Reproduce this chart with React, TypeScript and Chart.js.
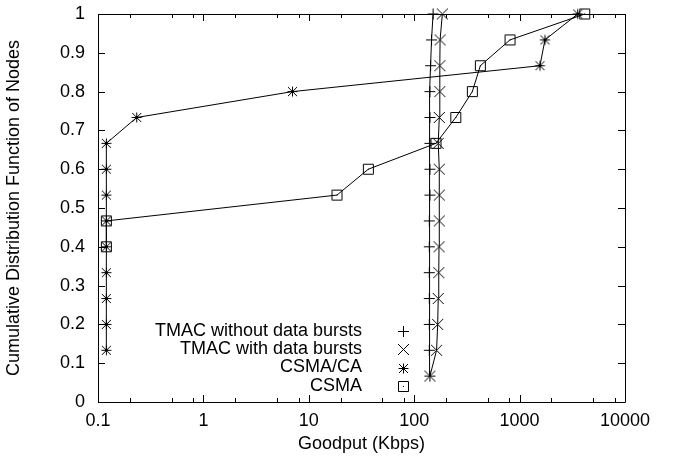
import React, { useEffect, useRef } from 'react';
import { Chart, registerables } from 'chart.js';

Chart.register(...registerables);

// ---------------- data ----------------
const seriesNames = ['TMAC without data bursts', 'TMAC with data bursts', 'CSMA/CA', 'CSMA'];

const tmacNoBurstX = [141, 139, 139, 139, 139, 139, 139, 141, 141, 141, 141, 141, 143, 146, 151];
const tmacNoBurstY = [0.0667, 0.1333, 0.2, 0.2667, 0.3333, 0.4, 0.4667, 0.5333, 0.6, 0.6667, 0.7333, 0.8, 0.8667, 0.9333, 1];

const tmacBurstX = [141, 163, 167, 169, 171, 172, 173, 173, 173, 169, 173, 175, 175, 176, 185];
const tmacBurstY = [0.0667, 0.1333, 0.2, 0.2667, 0.3333, 0.4, 0.4667, 0.5333, 0.6, 0.6667, 0.7333, 0.8, 0.8667, 0.9333, 1];

const csmaCaX = [0.12, 0.12, 0.12, 0.12, 0.12, 0.12, 0.12, 0.12, 0.12, 0.233, 7.0, 1560, 1740, 3560];
const csmaCaY = [0.1333, 0.2, 0.2667, 0.3333, 0.4, 0.4667, 0.5333, 0.6, 0.6667, 0.7333, 0.8, 0.8667, 0.9333, 1];

const csmaX = [0.12, 0.12, 18.5, 36.7, 161, 248, 356, 424, 811, 4150];
const csmaY = [0.4, 0.4667, 0.5333, 0.6, 0.6667, 0.7333, 0.8, 0.8667, 0.9333, 1];

const xMajorTicks = [0.1, 1, 10, 100, 1000, 10000];
const xMinorTicks = [0.2, 0.5, 0.8, 2, 5, 8, 20, 50, 80, 200, 500, 800, 2000, 5000, 8000];
const yTicks = [0, 0.1, 0.2, 0.3, 0.4, 0.5, 0.6, 0.7, 0.8, 0.9, 1];

const xTitle = 'Goodput (Kbps)';
const yTitle = 'Cumulative Distribution Function of Nodes';

const FONT = '"Liberation Sans", Arial, Helvetica, sans-serif';

// ---------------- symbols ----------------
type Kind = 'plus' | 'cross' | 'star' | 'square';
const kinds: Kind[] = ['plus', 'cross', 'star', 'square'];

function makeSymbol(kind: Kind): HTMLCanvasElement {
  const s = 15;
  const cv = document.createElement('canvas');
  cv.width = s;
  cv.height = s;
  const ctx = cv.getContext('2d')!;
  const c = 7.5;
  ctx.strokeStyle = '#000';
  ctx.fillStyle = '#000';
  ctx.lineWidth = 1;
  ctx.beginPath();
  if (kind === 'plus' || kind === 'star') {
    const r = kind === 'plus' ? 5.5 : 5;
    ctx.moveTo(c - r, c);
    ctx.lineTo(c + r, c);
    ctx.moveTo(c, c - r);
    ctx.lineTo(c, c + r);
  }
  if (kind === 'cross' || kind === 'star') {
    const r = kind === 'cross' ? 5.5 : 4.5;
    ctx.moveTo(c - r, c - r);
    ctx.lineTo(c + r, c + r);
    ctx.moveTo(c - r, c + r);
    ctx.lineTo(c + r, c - r);
  }
  if (kind === 'square') {
    ctx.rect(c - 5, c - 5, 10, 10);
  }
  ctx.stroke();
  if (kind === 'square') {
    ctx.fillRect(7, 7, 1, 1);
  }
  return cv;
}

export default function App() {
  const ref = useRef<HTMLCanvasElement | null>(null);

  useEffect(() => {
    if (!ref.current) return;
    Chart.defaults.font.family = FONT;
    const symbols = kinds.map(makeSymbol);

    const xs = [tmacNoBurstX, tmacBurstX, csmaCaX, csmaX];
    const ys = [tmacNoBurstY, tmacBurstY, csmaCaY, csmaY];

    const datasets = seriesNames.map((name, i) => ({
      label: name,
      data: xs[i].map((x, j) => ({ x, y: ys[i][j] })),
      showLine: true,
      borderColor: '#000',
      borderWidth: 1,
      backgroundColor: '#000',
      pointStyle: symbols[i] as any,
      pointRadius: 6,
      pointHoverRadius: 6,
      clip: false as any,
      order: 0,
    }));

    const framePlugin = {
      id: 'frameTicksLegend',
      afterDatasetsDraw(chart: any) {
        const { ctx, chartArea } = chart;
        const { left, right, top, bottom } = chartArea;
        const xs = chart.scales.x;
        const ys = chart.scales.y;
        ctx.save();
        ctx.strokeStyle = '#000';
        ctx.lineWidth = 1;
        ctx.beginPath();
        ctx.rect(Math.round(left) + 0.5, Math.round(top) + 0.5, Math.round(right - left), Math.round(bottom - top));
        ctx.stroke();
        ctx.beginPath();
        const major = 7;
        const minor = 4;
        xMajorTicks.forEach((v) => {
          const px = Math.round(xs.getPixelForValue(v)) + 0.5;
          ctx.moveTo(px, bottom);
          ctx.lineTo(px, bottom - major);
          ctx.moveTo(px, top);
          ctx.lineTo(px, top + major);
        });
        xMinorTicks.forEach((v) => {
          const px = Math.round(xs.getPixelForValue(v)) + 0.5;
          ctx.moveTo(px, bottom);
          ctx.lineTo(px, bottom - minor);
          ctx.moveTo(px, top);
          ctx.lineTo(px, top + minor);
        });
        yTicks.forEach((v) => {
          const py = Math.round(ys.getPixelForValue(v)) + 0.5;
          ctx.moveTo(left, py);
          ctx.lineTo(left + major, py);
          ctx.moveTo(right, py);
          ctx.lineTo(right - major, py);
        });
        ctx.stroke();

        // legend
        ctx.font = '18px ' + FONT;
        ctx.fillStyle = '#000';
        ctx.textAlign = 'right';
        ctx.textBaseline = 'alphabetic';
        const textRight = left + 264;
        const symX = left + 305;
        const base0 = top + 322;
        const sym0 = top + 317.7;
        const rowH = 18.2;
        seriesNames.forEach((name, i) => {
          ctx.fillText(name, textRight, base0 + i * rowH);
          const s = symbols[i];
          ctx.drawImage(s, Math.round(symX - s.width / 2), Math.round(sym0 + i * rowH - s.height / 2));
        });
        ctx.restore();
      },
    };

    const chart = new Chart(ref.current, {
      type: 'scatter',
      data: { datasets: datasets as any },
      options: {
        animation: false,
        responsive: false,
        events: [],
        layout: { padding: { top: 14, right: 50, bottom: 0, left: 0 } },
        plugins: {
          legend: { display: false },
          tooltip: { enabled: false },
          title: { display: false },
        },
        scales: {
          x: {
            type: 'logarithmic',
            min: 0.1,
            max: 10000,
            grid: { display: false, drawTicks: false },
            border: { display: false },
            afterBuildTicks: (scale: any) => {
              scale.ticks = xMajorTicks.map((v) => ({ value: v }));
            },
            afterFit: (scale: any) => {
              scale.height = 59;
              scale.paddingLeft = 0;
              scale.paddingRight = 0;
            },
            ticks: {
              autoSkip: false,
              maxRotation: 0,
              minRotation: 0,
              padding: 8,
              color: '#000',
              font: { size: 18, family: FONT },
              callback: (v: any) => String(v),
            },
            title: {
              display: true,
              text: xTitle,
              color: '#000',
              font: { size: 18, family: FONT },
              padding: { top: 0, bottom: 6 },
            },
          },
          y: {
            type: 'linear',
            min: 0,
            max: 1,
            grid: { display: false, drawTicks: false },
            border: { display: false },
            afterBuildTicks: (scale: any) => {
              scale.ticks = yTicks.map((v) => ({ value: v }));
            },
            afterFit: (scale: any) => {
              scale.width = 98;
              scale.paddingTop = 0;
              scale.paddingBottom = 0;
            },
            ticks: {
              autoSkip: false,
              padding: 13,
              color: '#000',
              font: { size: 18, family: FONT },
              callback: (v: any) => String(v),
            },
            title: {
              display: true,
              text: yTitle,
              color: '#000',
              font: { size: 18, family: FONT },
              padding: { top: 3, bottom: 0 },
            },
          },
        },
      },
      plugins: [framePlugin],
    });

    return () => chart.destroy();
  }, []);

  return (
    <div style={{ position: 'absolute', left: 0, top: 0, width: 675, height: 461, background: '#fff' }}>
      <canvas ref={ref} width={675} height={461} style={{ display: 'block', width: 675, height: 461 }} />
    </div>
  );
}
